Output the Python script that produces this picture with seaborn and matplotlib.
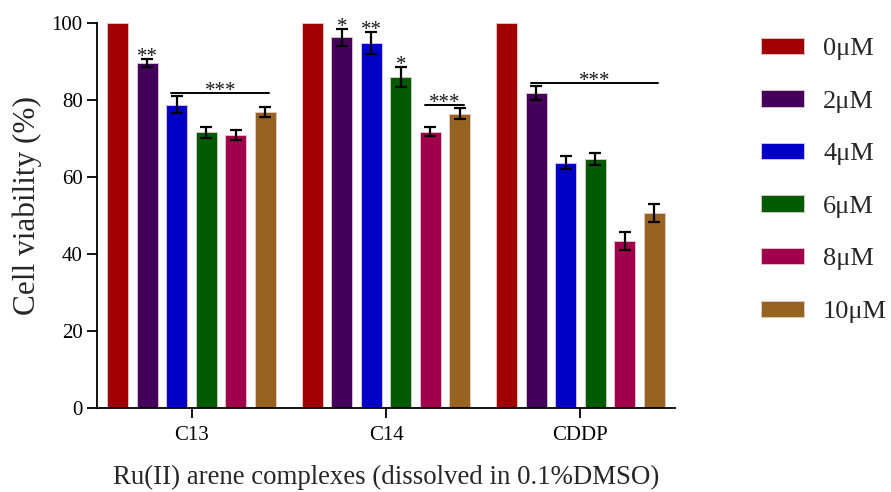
import matplotlib
matplotlib.use("Agg")
import matplotlib.pyplot as plt
import seaborn as sns
import pandas as pd
import numpy as np

groups = ["C13", "C14", "CDDP"]
concs = ["0μM", "2μM", "4μM", "6μM", "8μM", "10μM"]
colors = ["#A00000", "#44005A", "#0000C8", "#005A00", "#A0004C", "#966420"]

vals_c13 = [100, 89.6, 78.8, 71.6, 70.9, 77.0]
vals_c14 = [100, 96.3, 94.9, 86.0, 71.8, 76.5]
vals_cddp = [100, 81.8, 63.7, 64.7, 43.3, 50.7]
err_c13 = [0, 1.1, 2.2, 1.4, 1.2, 1.3]
err_c14 = [0, 2.2, 2.8, 2.5, 1.1, 1.4]
err_cddp = [0, 1.9, 1.7, 1.5, 2.3, 2.3]

stars_c14 = ["", "*", "**", "*", "", ""]
stars_c13 = ["", "**", "", "", "", ""]
# significance brackets: (group, first conc idx, last conc idx, y, label)
brackets = [("C13", 2, 5, 81.8, "***"), ("C14", 4, 5, 78.7, "***"), ("CDDP", 1, 5, 84.4, "***")]

vals = {"C13": vals_c13, "C14": vals_c14, "CDDP": vals_cddp}
errs = {"C13": err_c13, "C14": err_c14, "CDDP": err_cddp}
stars = {"C13": stars_c13, "C14": stars_c14, "CDDP": [""] * 6}

rows = []
for g in groups:
    for c, v in zip(concs, vals[g]):
        rows.append({"group": g, "conc": c, "value": v})
df = pd.DataFrame(rows)

sns.set_style("ticks")
plt.rcParams["font.family"] = ["Liberation Serif", "DejaVu Serif"]
plt.rcParams["mathtext.fontset"] = "stix"

fig = plt.figure(figsize=(8.91, 4.92), dpi=100)
ax = fig.add_axes([0.109, 0.171, 0.649, 0.782])

sns.barplot(data=df, x="group", y="value", hue="conc", order=groups, hue_order=concs,
            palette=colors, width=0.91, gap=0.29, errorbar=None, ax=ax,
            edgecolor="#e8c8c8", linewidth=0.6, saturation=1)

bar_containers = list(ax.containers)
centers = {}
for ci, cont in enumerate(bar_containers):
    for gi, bar in enumerate(cont):
        x = bar.get_x() + bar.get_width() / 2
        g = groups[gi]
        centers[(g, ci)] = x
        e = errs[g][ci]
        v = vals[g][ci]
        if e > 0:
            ax.errorbar(x, v, yerr=e, color="black", capsize=4.3, capthick=1.6, elinewidth=1.6, zorder=5)
        s = stars[g][ci]
        if s:
            ax.text(x, v + e - 0.8, s, ha="center", va="baseline", fontsize=15, color="#1a1a1a")

for g, i0, i1, y, lab in brackets:
    x0 = centers[(g, i0)] - 0.028
    x1 = centers[(g, i1)] + 0.02
    ax.plot([x0, x1], [y, y], color="black", lw=1.4, clip_on=False)
    ax.text((x0 + x1) / 2, y - 0.8, lab, ha="center", va="baseline", fontsize=15, color="#1a1a1a")

ax.set_ylim(0, 100)
ax.set_xlim(-0.486, 2.488)
ax.set_yticks([0, 20, 40, 60, 80, 100])
ax.tick_params(axis="both", direction="out", length=7, width=1.3, labelsize=15, colors="black")
ax.tick_params(axis="x", pad=6)
for sp in ["top", "right"]:
    ax.spines[sp].set_visible(False)
for sp in ["left", "bottom"]:
    ax.spines[sp].set_linewidth(1.3)
    ax.spines[sp].set_color("black")

ax.set_ylabel("Cell viability (%)", fontsize=22.5, labelpad=7)
ax.yaxis.label.set_y(0.527)
ax.set_xlabel("Ru(II) arene complexes (dissolved in 0.1%DMSO)", fontsize=19.4, labelpad=14.5)

leg = ax.legend(loc="upper left", bbox_to_anchor=(1.13, 0.989), frameon=False, fontsize=19,
                handlelength=1.63, handleheight=0.57, labelspacing=1.14, handletextpad=0.72,
                borderaxespad=0)

fig.savefig("out.png", dpi=100)
